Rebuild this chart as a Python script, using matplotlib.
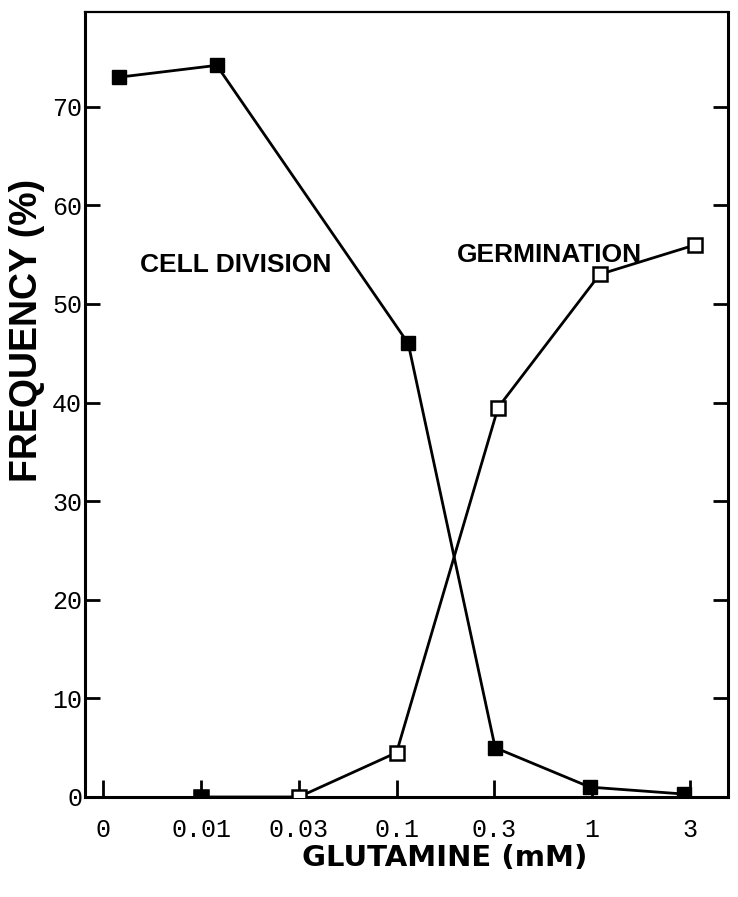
import matplotlib
matplotlib.use("Agg")
import matplotlib.pyplot as plt

# glutamine doses, plotted at evenly spaced positions
doses = ["0", "0.01", "0.03", "0.1", "0.3", "1", "3"]

# cell division frequency (%), hand-placed a little off the dose positions
cd_x = [0.16, 1.16, 3.12, 4.01, 4.98, 5.94]
cd_y = [73.0, 74.2, 46.0, 5.0, 1.0, 0.3]

# germination frequency (%)
germ_x = [1.0, 2.0, 3.0, 4.04, 5.08, 6.06]
germ_y = [0.0, 0.0, 4.5, 39.5, 53.0, 56.0]

mono = "Liberation Mono"

fig = plt.figure(figsize=(7.38, 8.97), dpi=100)
ax = fig.add_axes([0.115, 0.1115, 0.871, 0.875])

ax.plot(cd_x, cd_y, color="black", lw=2.0, marker="s", ms=10,
        mfc="black", mec="black", zorder=3)
ax.plot(germ_x, germ_y, color="black", lw=2.0, marker="s", ms=10,
        mfc="white", mec="black", mew=1.8, zorder=4)
# the 0.01 point overlaps a filled one
ax.plot(germ_x[0], germ_y[0], marker="s", ms=10, mfc="black", mec="black", zorder=5)

ax.set_xlim(-0.19, 6.39)
ax.set_ylim(0, 79.6)

ax.set_xticks(range(len(doses)))
ax.set_xticklabels(doses, fontfamily=mono, fontsize=18)
ax.set_yticks(range(0, 80, 10))
ax.set_yticklabels([str(v) for v in range(0, 80, 10)], fontfamily=mono, fontsize=18)

ax.tick_params(axis="x", direction="in", length=12, width=2, pad=15)
ax.tick_params(axis="y", direction="in", length=11, width=2, pad=2,
               right=True)

for side in ["left", "bottom", "right"]:
    ax.spines[side].set_linewidth(2.2)
ax.spines["top"].set_linewidth(1.6)

ax.set_xlabel("GLUTAMINE (mM)", fontfamily="DejaVu Sans", fontweight="bold",
              fontsize=21)
ax.xaxis.set_label_coords(0.56, -0.06)
ax.set_ylabel("FREQUENCY (%)", fontfamily="Liberation Sans", fontweight="bold",
              fontsize=27)
ax.yaxis.set_label_coords(-0.062, 0.595)

ax.text(0.37, 54, "CELL DIVISION", fontfamily="Liberation Sans",
        fontweight="bold", fontsize=19, va="center")
ax.text(3.62, 55.0, "GERMINATION", fontfamily="Liberation Sans",
        fontweight="bold", fontsize=19, va="center")

fig.savefig("out.png", dpi=100)
